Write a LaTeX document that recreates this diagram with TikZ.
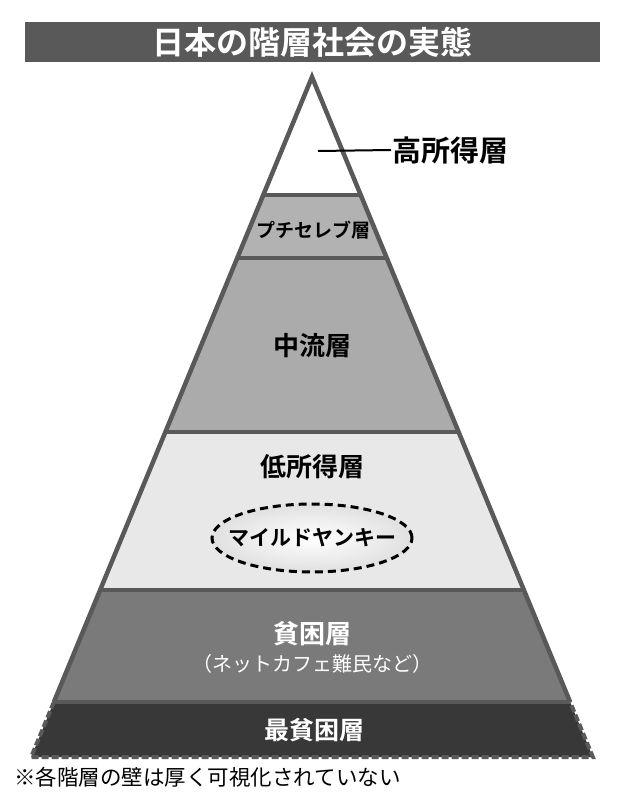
\documentclass[tikz,border=0pt]{standalone}
\usepackage{fontspec}
\setmainfont{Noto Sans CJK JP}[BoldFont=Noto Sans CJK JP Bold]
\usetikzlibrary{shapes.geometric,shadings}
\begin{document}
\begin{tikzpicture}[x=1pt,y=-1pt,
  lbl/.style={font=\fontsize{26}{28}\selectfont\bfseries,text=black},
  sep/.style={draw=black!65,line width=4pt}]
\useasboundingbox (0,0) rectangle (624,800);
% title
\fill[black!65] (25,22) rectangle (600,62);
\node (title) at (312,42) {\fontsize{32}{34}\selectfont\bfseries\color{white}日本の階層社会の実態};
% layers
\fill[white] (312,77) -- ({312-0.413*118},195) -- ({312+0.413*118},195) -- cycle;
\fill[black!30] ({312-0.413*118},195) -- ({312+0.413*118},195) -- ({312+0.413*181},258) -- ({312-0.413*181},258) -- cycle;
\fill[black!33] ({312-0.413*181},258) -- ({312+0.413*181},258) -- ({312+0.413*355},432) -- ({312-0.413*355},432) -- cycle;
\fill[black!9] ({312-0.413*355},432) -- ({312+0.413*355},432) -- ({312+0.413*513},590) -- ({312-0.413*513},590) -- cycle;
\fill[black!52] ({312-0.413*513},590) -- ({312+0.413*513},590) -- ({312+0.413*625},702) -- ({312-0.413*625},702) -- cycle;
\fill[black!78] ({312-0.413*625},702) -- ({312+0.413*625},702) -- ({312+0.413*680},757) -- ({312-0.413*680},757) -- cycle;
% separators
\foreach \y in {195,258,432,590,702}
  \draw[sep] ({312-0.413*(\y-77)},\y) -- ({312+0.413*(\y-77)},\y);
\draw[draw=black!65,line width=4.5pt,line join=miter] ({312-0.413*625},702) -- (312,77) -- ({312+0.413*625},702);
\draw[draw=black!65,line width=4pt,dash pattern=on 7pt off 3pt] ({312-0.413*625},702) -- ({312-0.413*680},757) -- ({312+0.413*680},757) -- ({312+0.413*625},702);
% labels
\coordinate (hs) at (318,151);
\node[anchor=west,font=\fontsize{29}{31}\selectfont\bfseries,inner sep=1pt] (high) at (391,150) {高所得層};
\draw[line width=2pt] (hs) -- (high.west);
\node[lbl,font=\fontsize{19}{21}\selectfont\bfseries] (petit) at (313,230) {プチセレブ層};
\node[lbl] (mid) at (312,346) {中流層};
\node[lbl] (low) at (312,467) {低所得層};
\node[ellipse,draw,dash pattern=on 8pt off 5pt,line width=3pt,minimum width=200pt,minimum height=68pt,inner color=white,outer color=black!12] (mild) at (312,538) {};
\node[font=\fontsize{21}{23}\selectfont\bfseries] (mildt) at (mild) {マイルドヤンキー};
\node[lbl,text=white] (poor) at (312,634) {貧困層};
\node[font=\fontsize{20}{22}\selectfont,text=white] (poor2) at (312,664) {（ネットカフェ難民など）};
\node[lbl,font=\fontsize{25}{27}\selectfont\bfseries,text=white] (vpoor) at (314,730) {最貧困層};
\node[anchor=west,font=\fontsize{21.5}{23}\selectfont,inner sep=0pt] (note) at (14,777) {※各階層の壁は厚く可視化されていない};
\end{tikzpicture}
\end{document}
